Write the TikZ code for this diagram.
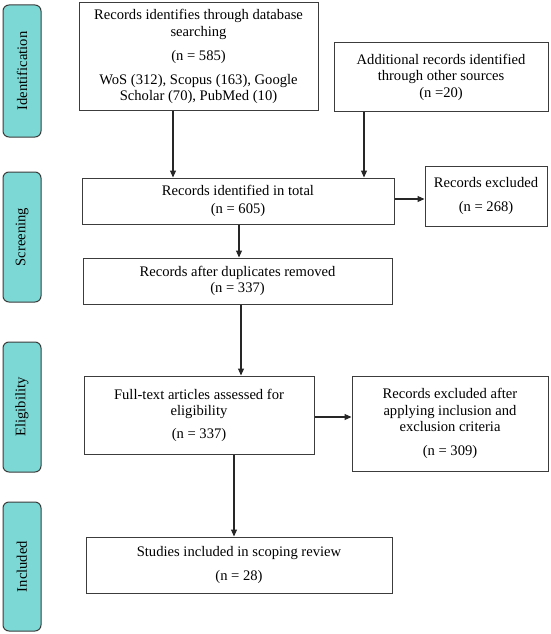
\documentclass[tikz,border=0pt]{standalone}
\usepackage{fontspec}
\setmainfont{Liberation Serif}
\usetikzlibrary{arrows.meta}
\definecolor{phasefill}{RGB}{124,216,212}
\definecolor{edgegray}{RGB}{60,60,60}
\begin{document}
\begin{tikzpicture}[x=1pt,y=-1pt,
  txt/.style={font=\fontsize{14.6}{16.5}\selectfont, text=black},
  flowbox/.style={txt, draw=edgegray, line width=1pt, fill=white, align=center, inner sep=0pt, anchor=center},
  phase/.style={txt, draw=edgegray, line width=1pt, fill=phasefill, rounded corners=6pt, rotate=90, inner sep=0pt, minimum height=38pt, anchor=center},
  arr/.style={draw=black!85, line width=1.1pt, -{Triangle[length=7pt,width=6pt]}}]
\useasboundingbox (0,0) rectangle (551,634);

% phase labels
\node[phase, minimum width=132pt] (pid) at (22,71) {Identification};
\node[phase, minimum width=130pt] (psc) at (22,237) {Screening};
\node[phase, minimum width=130pt] (pel) at (22,407) {Eligibility};
\node[phase, minimum width=129pt] (pin) at (22,566.5) {Included};

% boxes
\node[flowbox, minimum width=239pt, minimum height=107pt] (b1) at (198.5,56.5)
  {Records identifies through database\\searching\\[8pt](n = 585)\\[7pt]WoS (312), Scopus (163), Google\\Scholar (70), PubMed (10)};
\node[flowbox, minimum width=214pt, minimum height=68pt] (b2) at (441,77)
  {Additional records identified\\through other sources\\(n =20)};
\node[flowbox, minimum width=312pt, minimum height=46pt] (b3) at (238,201)
  {Records identified in total\\[1pt](n = 605)};
\node[flowbox, minimum width=122pt, minimum height=60pt] (b4) at (486,196)
  {Records excluded\\[7pt](n = 268)};
\node[flowbox, minimum width=309pt, minimum height=46pt] (b5) at (237.5,281)
  {Records after duplicates removed\\(n = 337)};
\node[flowbox, minimum width=230pt, minimum height=78pt] (b6) at (199,415)
  {Full-text articles assessed for\\eligibility\\[6pt](n = 337)};
\node[flowbox, minimum width=196pt, minimum height=95pt] (b7) at (450,423.5)
  {Records excluded after\\applying inclusion and\\exclusion criteria\\[7pt](n = 309)};
\node[flowbox, minimum width=306pt, minimum height=56pt] (b8) at (239,565)
  {Studies included in scoping review\\[8pt](n = 28)};

% connectors
\draw[arr] ([xshift=-25.5pt]b1.south) -- ([xshift=-25.5pt]b1.south |- b3.north);
\draw[arr] ([xshift=-77pt]b2.south) -- ([xshift=-77pt]b2.south |- b3.north);
\draw[arr] ([yshift=2pt]b3.east) -- ([yshift=2pt]b3.east -| b4.west);
\draw[arr] ([xshift=1pt]b3.south) -- ([xshift=1pt]b3.south |- b5.north);
\draw[arr] ([xshift=3.5pt]b5.south) -- ([xshift=3.5pt]b5.south |- b6.north);
\draw[arr] ([yshift=-2pt]b6.east) -- ([yshift=-2pt]b6.east -| b7.west);
\draw[arr] ([xshift=35pt]b6.south) -- ([xshift=35pt]b6.south |- b8.north);
\end{tikzpicture}
\end{document}
